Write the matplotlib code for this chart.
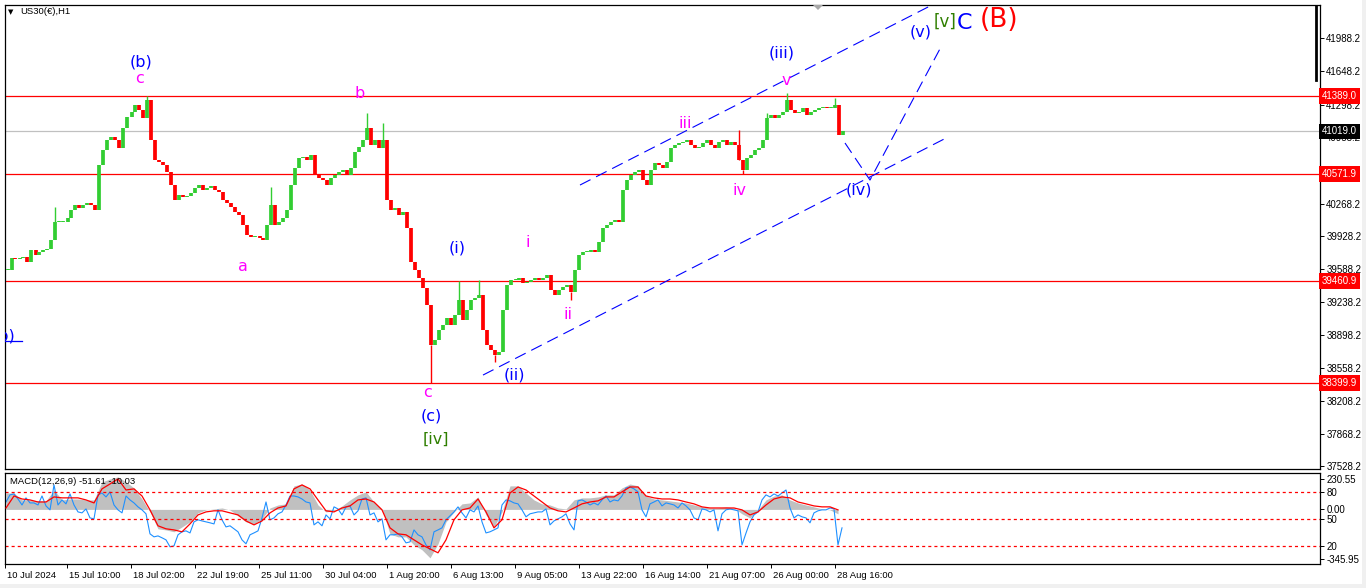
import numpy as np
import matplotlib
matplotlib.use('Agg')
import matplotlib.pyplot as plt
from matplotlib import transforms
from matplotlib.patches import Polygon, Rectangle
from matplotlib.lines import Line2D

plt.rcParams['font.family'] = ['Liberation Sans', 'DejaVu Sans']
plt.rcParams['lines.scale_dashes'] = False

# ---- price data: closes of 4-hour groups (H1 chart, 4 bars per value) ----
closes = [
    39576, 39701, 39690, 39701, 39711, 39659, 39784, 39732, 39763, 39784,
    39794, 39888, 40076, 40076, 40076, 40117, 40201, 40253, 40222, 40253,
    40274, 40253, 40201, 40670, 40826, 40930, 40962, 40930, 40847, 41055,
    41170, 41222, 41295, 41243, 41159, 41347, 40930, 40722, 40701, 40670,
    40597, 40461, 40305, 40357, 40336, 40347, 40378, 40430, 40461, 40409,
    40430, 40451, 40409, 40388, 40305, 40274, 40232, 40180, 40149, 40045,
    39941, 39920, 39930, 39909, 39888, 40045, 40253, 40045, 40076, 40117,
    40201, 40461, 40639, 40742, 40753, 40722, 40774, 40566, 40534, 40514,
    40461, 40534, 40566, 40597, 40618, 40566, 40639, 40805, 40857, 40930,
    41055, 40878, 40930, 40847, 40930, 40305, 40201, 40222, 40149, 40180,
    40013, 39659, 39576, 39492, 39388, 39211, 38794, 38846, 38950, 39003,
    39075, 39003, 39107, 39263, 39055, 39159, 39263, 39284, 39315, 38950,
    38794, 38742, 38690, 38721, 39159, 39419, 39472, 39472, 39492, 39440,
    39451, 39472, 39492, 39472, 39492, 39524, 39367, 39315, 39367, 39399,
    39419, 39346, 39576, 39732, 39763, 39763, 39784, 39763, 39867, 40013,
    40045, 40076, 40097, 40076, 40409, 40514, 40566, 40597, 40618, 40514,
    40461, 40618, 40691, 40670, 40639, 40701, 40847, 40878, 40899, 40909,
    40930, 40878, 40847, 40857, 40899, 40930, 40878, 40847, 40909, 40930,
    40878, 40909, 40878, 40722, 40618, 40742, 40774, 40826, 40847, 40930,
    41159, 41191, 41159, 41191, 41222, 41347, 41243, 41212, 41222, 41264,
    41191, 41222, 41243, 41264, 41274, 41264, 41264, 41295, 40982, 41024,
]
# wicks sticking out of some groups (group index, extreme price)
wick_idx = [12, 35, 66, 90, 94, 106, 113, 118, 122, 141, 183, 184, 190, 195, 207]
wick_price = [40232, 41389, 40440, 41212, 41107, 38399, 39461, 39472, 38617,
              39263, 41035, 40576, 41212, 41420, 41368]

red_levels = [41389.0, 40571.9, 39460.9, 38399.9]
last_price = 41019.0
price_ticks = [41988.2, 41648.2, 41298.2, 40958.2, 40618.2, 40268.2, 39928.2,
               39588.2, 39238.2, 38898.2, 38558.2, 38208.2, 37868.2, 37528.2]

# ---- MACD panel: histogram / signal every 8 bars, blue line every 4 bars ----
macd_hist = [
    104, 104, 60, 60, 54, 54, 123, 60, 66, 66,
    60, 60, 174, 193, 206, 174, 136, 66, -16, -123,
    -130, -142, -111, -79, -22, -3, 3, 9, -3, -41,
    -79, -92, -60, 9, 28, 35, 149, 161, 123, 28,
    -16, -9, 22, 60, 92, 111, 47, 3, -155, -174,
    -174, -225, -256, -307, -218, -79, -16, 35, 41, 79,
    -35, -111, -16, 149, 149, 104, 60, 35, 28, 9,
    3, 60, 73, 73, 79, 92, 92, 136, 161, 149,
    85, 66, 60, 54, 47, 41, 28, 16, 9, 9,
    16, 9, -28, -54, -3, 60, 85, 92, 60, 41,
    28, 16, 3, -3, -28,
]
macd_signal = [
    9, 85, 66, 60, 47, 47, 79, 73, 73, 73,
    60, 41, 130, 161, 193, 123, 130, 85, -3, -104,
    -123, -130, -142, -92, -35, -16, -9, -9, -22, -35,
    -73, -98, -73, -22, 9, 22, 130, 155, 130, 60,
    -9, -16, 9, 22, 60, 66, 47, -3, -117, -155,
    -161, -193, -225, -250, -275, -193, -66, -3, 9, 66,
    -16, -117, -66, 104, 142, 123, 85, 47, 9, -9,
    -16, 9, 35, 47, 54, 79, 79, 111, 142, 142,
    85, 73, 66, 66, 60, 47, 35, 16, 9, 9,
    9, 9, -3, -35, -16, 28, 66, 79, 73, 47,
    35, 22, 16, 16, -3,
]
blue_line = [
    47, 92, 98, 66, 28, 73, 41, 41, 28, 85,
    22, -3, 155, 28, 60, 35, 98, 28, -16, -22,
    3, -54, -60, 92, 104, 79, 111, 28, -3, -22,
    85, 60, 41, 16, -3, -28, -155, -174, -168, -180,
    -193, -237, -231, -161, -142, -136, -149, -79, -66, -73,
    -79, -85, -92, -3, -66, -111, -104, -123, -142, -193,
    -218, -161, -149, -136, -54, 47, -66, -54, -28, -16,
    28, 85, 85, 79, 66, 47, 41, -98, -79, -104,
    -35, -60, 16, 3, -35, 16, 22, -35, -9, 66,
    73, -35, -22, -79, -60, -193, -161, -161, -155, -174,
    -212, -206, -130, -161, -174, -225, -256, -142, -130, -117,
    -66, -41, -16, 16, -22, -54, -3, -16, 22, -79,
    -149, -142, -130, -117, 28, 60, 54, 41, 35, -3,
    -47, -28, -22, -16, -16, 3, -98, -73, -60, -47,
    -28, -92, -130, 54, 60, 47, 28, 41, 28, 60,
    85, 47, 60, 54, 85, 136, 142, 130, 111, -3,
    -47, 35, 47, 60, 22, 41, 35, 28, 9, 41,
    22, -3, -54, -66, 3, -3, -16, -3, -136, -28,
    -3, 3, -3, -9, -225, -150, -79, -35, -16, 60,
    92, 79, 98, 85, 104, 123, 9, -54, -35, -47,
    -54, -85, -22, -9, -3, -3, 9, 3, -225, -117,
]
macd_levels = [110, -61, -232]
macd_ticks = [193, 110, 0, -61, -232, -312]
macd_tick_labels = ['230.55', '80', '0.00', '50', '20', '-345.95']

date_ticks = [-1, 61, 125, 189, 253, 317, 381, 445, 509, 573, 637, 701, 765, 829]
date_labels = ['10 Jul 2024', '15 Jul 10:00', '18 Jul 02:00', '22 Jul 19:00',
               '25 Jul 11:00', '30 Jul 04:00', '1 Aug 20:00', '6 Aug 13:00',
               '9 Aug 05:00', '13 Aug 22:00', '16 Aug 14:00', '21 Aug 07:00',
               '26 Aug 00:00', '28 Aug 16:00']

BLUE = '#0000FF'
MAG = '#FF00FF'
LGREEN = '#2F7F00'
# wave labels: text, bar, price, colour
waves = [
    ('(b)', 135, 41743, BLUE), ('c', 134, 41576, MAG), ('b', 354, 41410, MAG),
    ('a', 237, 39607, MAG), ('(i)', 451, 39805, BLUE), ('i', 522, 39857, MAG),
    ('ii', 562, 39107, MAG), ('(ii)', 508, 38482, BLUE), ('c', 422, 38304, MAG),
    ('(c)', 425, 38054, BLUE), ('[iv]', 430, 37815, LGREEN),
    ('iii', 679, 41107, MAG), ('iv', 734, 40409, MAG), ('(iii)', 776, 41837, BLUE),
    ('v', 780, 41555, MAG), ('(iv)', 853, 40409, BLUE), ('(v)', 915, 42056, BLUE),
]
# blue dashed channel / projection (bar, price)
upper_chan = ([574, 926], [40461, 42337])
lower_chan = ([477, 942], [38481, 40961])
projection = ([839, 864, 936], [40899, 40513, 41920])

GREEN = '#32CD32'
RED = '#FF0000'

W, H = 1366, 588
fig = plt.figure(figsize=(W / 100, H / 100), dpi=100)
fig.patch.set_facecolor('white')


def box(x0, y0, x1, y1):
    return [x0 / W, 1 - y1 / H, (x1 - x0) / W, (y1 - y0) / H]


ax = fig.add_axes(box(5, 5, 1320, 469))
mx = fig.add_axes(box(5, 473, 1320, 564))
for a in (ax, mx):
    a.set_xlim(-1, 1314)
    for s in a.spines.values():
        s.set_linewidth(0.9)
        s.set_color('black')

# ---- candles ----
close = np.array(closes, float)
opens = np.r_[close[0], close[:-1]]
bx = np.arange(len(close)) * 4 + 1.5
up = close >= opens
cols = np.where(up, GREEN, RED)
lo = np.minimum(opens, close)
hi = np.maximum(opens, close)
hi = np.where(hi - lo < 6, lo + 6, hi)
ax.vlines(bx, lo, hi, colors=cols, lw=2.7, zorder=3)
wi = np.array(wick_idx)
ax.vlines(bx[wi], close[wi], wick_price, colors=cols[wi], lw=1.0, zorder=3)

for lev in red_levels:
    ax.axhline(lev, color=RED, lw=0.9, zorder=2)
ax.axhline(last_price, color='#C0C0C0', lw=0.9, zorder=1)

ax.set_ylim(37502, 42337)
ax.set_xticks([])
ax.yaxis.tick_right()
ax.set_yticks(price_ticks)
ax.set_yticklabels(['%.1f' % t for t in price_ticks])
ax.tick_params(axis='y', direction='out', length=3, width=0.7, pad=1.5,
               labelsize=7, colors='black')

trans = transforms.blended_transform_factory(ax.transAxes, ax.transData)
for lev in red_levels:
    ax.text(1.0 + 2 / 1315, lev, '%.1f' % lev, transform=trans, ha='left',
            va='center', fontsize=7, color='white', clip_on=False, zorder=5,
            bbox=dict(boxstyle='square,pad=0.3', fc=RED, ec='none'))
ax.text(1.0 + 2 / 1315, last_price, '%.1f' % last_price, transform=trans,
        ha='left', va='center', fontsize=7, color='white', clip_on=False,
        zorder=5, bbox=dict(boxstyle='square,pad=0.3', fc='black', ec='none'))

# ---- wave labels ----
for txt, bar, price, c in waves:
    ax.text(bar, price, txt, color=c, fontsize=11.5, family='DejaVu Sans',
            ha='center', va='center', zorder=6)
ax.text(951, 42160, '[v]', color=LGREEN, fontsize=12, family='DejaVu Sans',
        ha='right', va='center', zorder=6)
ax.text(951, 42150, 'C', color=BLUE, fontsize=16, family='DejaVu Sans',
        ha='left', va='center', zorder=6)
ax.text(993, 42181, '(B)', color=RED, fontsize=19, family='DejaVu Sans',
        ha='center', va='center', zorder=6)
# label cut at the left edge
ax.text(9, 38888, '(b)', color=BLUE, fontsize=11.5, family='DejaVu Sans',
        ha='right', va='center', clip_on=True, zorder=6)
ax.plot([-2, 16], [38836, 38836], color=BLUE, lw=0.9, zorder=6)

for xs, ys in (upper_chan, lower_chan, projection):
    ax.plot(xs, ys, color=BLUE, lw=0.8, dashes=(8.5, 4.5), zorder=4)

# ---- MACD panel ----
hx = np.arange(len(macd_hist)) * 8
mx.fill_between(hx, 0, macd_hist, color='#C0C0C0', lw=0, zorder=1)
mx.plot(hx, macd_signal, color=RED, lw=0.9, zorder=3)
mx.plot(np.arange(len(blue_line)) * 4, blue_line, color='#1E90FF', lw=0.8, zorder=2)
for lev in macd_levels:
    mx.axhline(lev, color=RED, lw=0.9, dashes=(2.2, 2.2), zorder=2)
mx.set_ylim(-345.95, 230.55)
mx.yaxis.tick_right()
mx.set_yticks(macd_ticks)
mx.set_yticklabels(macd_tick_labels)
mx.tick_params(axis='y', direction='out', length=3, width=0.7, pad=1.5,
               labelsize=7, colors='black')
mx.set_xticks(date_ticks)
mx.set_xticklabels(date_labels, ha='left')
mx.tick_params(axis='x', direction='out', length=3, width=0.7, pad=2,
               labelsize=6.8, colors='black')
shift = transforms.ScaledTranslation(2 / 100, 0, fig.dpi_scale_trans)
for lbl in mx.get_xticklabels():
    lbl.set_transform(lbl.get_transform() + shift)
mx.text(5 / 1315, (564 - 481) / 91, 'MACD(12,26,9) -51.61 -10.03',
        transform=mx.transAxes, fontsize=6.8, ha='left', va='center', zorder=6)

# ---- chart chrome ----
fig.text(8 / W, 1 - 12 / H, '\u25bc', fontsize=5, family='DejaVu Sans',
         ha='left', va='center')
fig.text(20 / W, 1 - 12 / H, 'US30(\u20ac),H1', fontsize=6.8, ha='left', va='center')
fig.patches.append(Polygon([(813 / W, 1 - 5 / H), (823 / W, 1 - 5 / H),
                            (818 / W, 1 - 10 / H)], closed=True, fc='#A8A8A8',
                           ec='none', transform=fig.transFigure, figure=fig))
fig.lines.append(Line2D([1316 / W, 1316 / W], [1 - 6 / H, 1 - 80 / H], lw=2.0,
                        color='black', transform=fig.transFigure, figure=fig))
fig.patches.append(Rectangle((0, 0), 1, 4 / H, fc='#F0F0F0', ec='none',
                             transform=fig.transFigure, figure=fig))
fig.patches.append(Rectangle((1362 / W, 0), 4 / W, 1, fc='#F0F0F0', ec='none',
                             transform=fig.transFigure, figure=fig))

fig.savefig('out.png', dpi=100)
